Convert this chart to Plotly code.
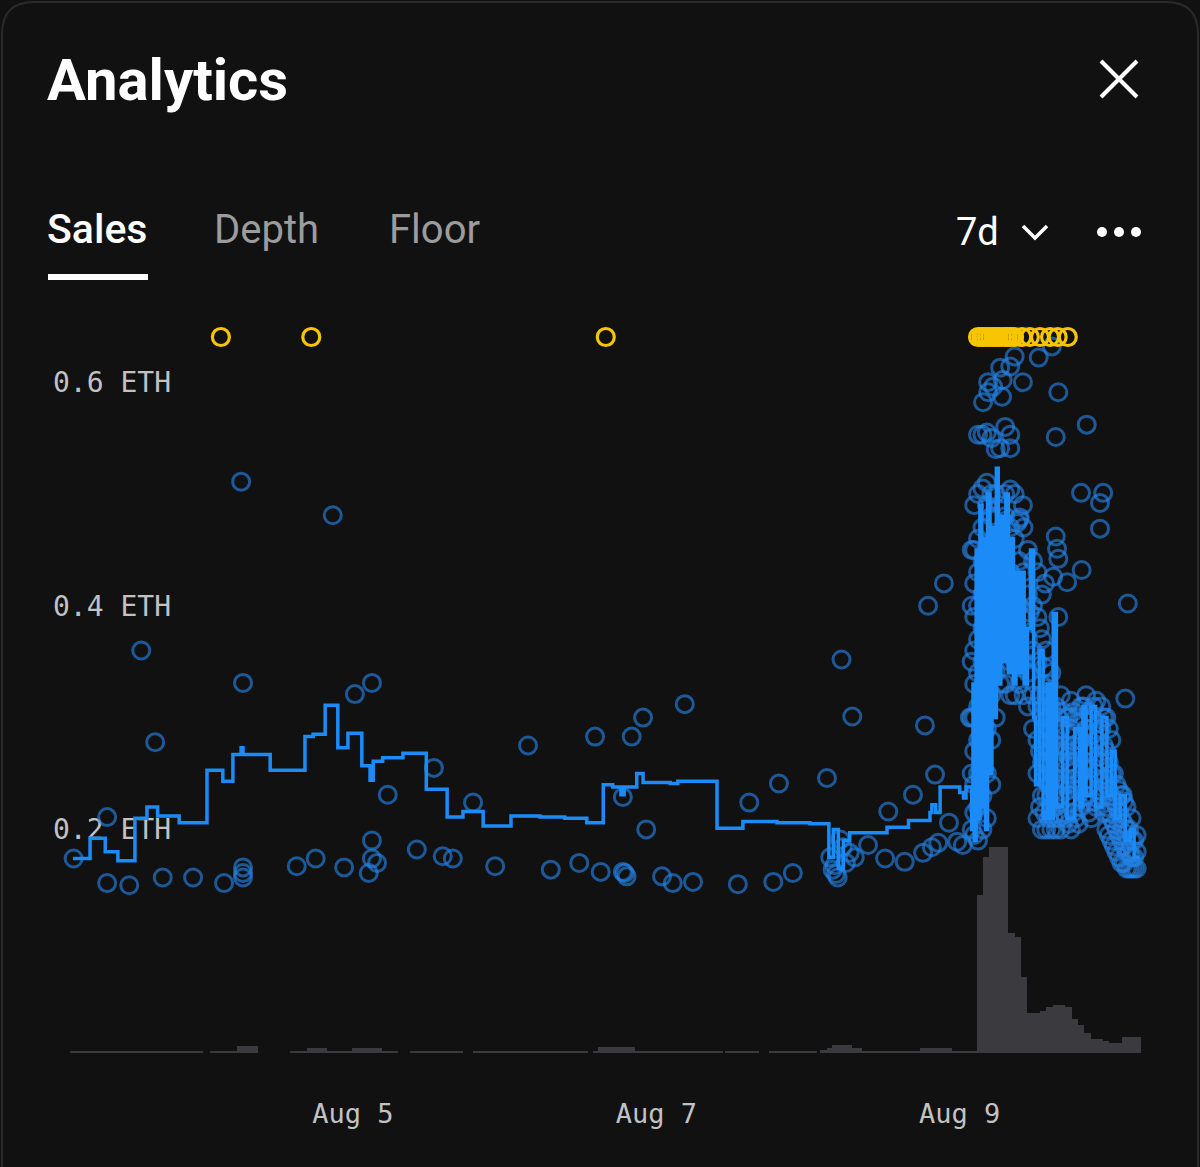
import plotly.graph_objects as go

# ---------------------------------------------------------------- data
# x values are hours since Aug 3, 00:00
X_TICK_HOURS = [48, 96, 144]
X_TICK_LABELS = ["Aug 5", "Aug 7", "Aug 9"]
Y_TICK_VALUES = [0, 0.2, 0.4, 0.6]
Y_TICK_LABELS = ["0 ETH", "0.2 ETH", "0.4 ETH", "0.6 ETH"]

# individual sales (hour, price in ETH)
SALE_HOURS = [3.8, 9.1, 9.1, 12.6, 14.5, 16.7, 17.9, 22.7, 27.6, 30.3, 30.6, 30.6, 30.6, 30.6,
              39.1, 42.1, 44.8, 46.6, 48.3, 51.0, 51.0, 51.0, 51.8, 50.5, 53.5, 58.1, 60.8,
              62.2, 63.8, 67.0, 70.5, 75.7, 79.3, 83.8, 86.3, 87.2, 90.7, 90.7, 91.0, 91.3,
              92.1, 93.9, 94.4, 96.9, 98.6, 100.5, 101.8, 108.9, 110.7, 114.5, 115.4, 117.6,
              123.0, 125.3, 127.0,
              123.5, 123.9, 124.4, 124.7, 125.1, 125.5, 126.0, 126.6, 127.4, 124.2, 129.5,
              132.2, 132.7, 135.3, 136.6, 138.2, 138.5, 139.0, 139.6, 140.1, 140.6, 141.5,
              142.3, 143.6, 144.5, 145.6]
SALE_PRICES = [0.174, 0.211, 0.152, 0.150, 0.360, 0.278, 0.157, 0.157, 0.152, 0.511, 0.331, 0.166,
               0.161, 0.157, 0.167, 0.174, 0.481, 0.166, 0.321, 0.331, 0.190, 0.174, 0.170, 0.161,
               0.231, 0.182, 0.255, 0.176, 0.174, 0.224, 0.167, 0.275, 0.164, 0.170, 0.283, 0.162,
               0.229, 0.162, 0.161, 0.158, 0.283, 0.300, 0.200, 0.158, 0.152, 0.312, 0.153, 0.151,
               0.224, 0.153, 0.241, 0.161, 0.246, 0.352, 0.301,
               0.175, 0.164, 0.160, 0.157, 0.191, 0.184, 0.170, 0.179, 0.175, 0.168, 0.186,
               0.174, 0.216, 0.171, 0.231, 0.179, 0.293, 0.400, 0.184, 0.249, 0.188, 0.420,
               0.206, 0.189, 0.186, 0.300]

# the Aug 9 sales burst, read column by column
BURST_HOURS = [145.9, 146.3, 146.9, 147.6, 148.3, 149.0, 149.7, 150.4, 151.2, 152.0, 152.7, 153.4,
               154.1, 154.8, 155.6, 156.3, 157.0, 157.7, 158.5, 159.2, 160.0, 160.8, 161.6,
               162.4, 163.2, 164.0, 164.8, 165.6, 166.4, 167.2, 168.0, 168.8, 169.6, 170.4,
               171.2, 172.0,
               156.7, 157.4, 158.1, 158.9, 159.6, 160.4, 161.2, 162.0, 162.8, 163.6, 164.4,
               165.2, 166.0, 166.8, 167.6, 168.4, 169.2, 170.0, 170.8, 171.6]
BURST_PRICES = [
    [0.20, 0.25, 0.30, 0.35, 0.40, 0.45],
    [0.195, 0.215, 0.24, 0.27, 0.30, 0.33, 0.36, 0.39, 0.42, 0.45, 0.49],
    [0.19, 0.22, 0.25, 0.28, 0.31, 0.34, 0.37, 0.40, 0.43, 0.46, 0.50, 0.553],
    [0.20, 0.23, 0.26, 0.29, 0.32, 0.35, 0.38, 0.41, 0.44, 0.47, 0.505, 0.553],
    [0.21, 0.25, 0.29, 0.33, 0.37, 0.41, 0.45, 0.49, 0.51, 0.555],
    [0.24, 0.28, 0.32, 0.36, 0.40, 0.44, 0.48, 0.50, 0.55],
    [0.30, 0.34, 0.38, 0.42, 0.46, 0.50, 0.54],
    [0.33, 0.37, 0.41, 0.45, 0.49, 0.541],
    [0.33, 0.36, 0.40, 0.44, 0.48, 0.50, 0.56],
    [0.32, 0.35, 0.39, 0.43, 0.47, 0.504, 0.541, 0.553],
    [0.32, 0.35, 0.38, 0.42, 0.46, 0.50],
    [0.33, 0.36, 0.40, 0.44, 0.477],
    [0.32, 0.35, 0.39, 0.43, 0.47],
    [0.31, 0.34, 0.37, 0.41, 0.45],
    [0.29, 0.32, 0.36, 0.40, 0.44],
    [0.21, 0.25, 0.28, 0.31, 0.35, 0.39, 0.43],
    [0.20, 0.23, 0.26, 0.30, 0.33, 0.37, 0.41],
    [0.20, 0.23, 0.26, 0.29, 0.32, 0.36],
    [0.20, 0.22, 0.25, 0.28, 0.31, 0.34],
    [0.20, 0.22, 0.25, 0.28, 0.31],
    [0.20, 0.23, 0.26, 0.29, 0.32],
    [0.21, 0.24, 0.27, 0.30],
    [0.20, 0.23, 0.26, 0.29, 0.315],
    [0.21, 0.24, 0.27, 0.30],
    [0.22, 0.25, 0.28, 0.31],
    [0.23, 0.26, 0.29, 0.32],
    [0.21, 0.24, 0.27, 0.30],
    [0.22, 0.25, 0.28, 0.315],
    [0.23, 0.26, 0.29, 0.31],
    [0.20, 0.22, 0.24, 0.27, 0.30],
    [0.19, 0.21, 0.23, 0.25, 0.28],
    [0.18, 0.20, 0.22, 0.24],
    [0.17, 0.19, 0.21, 0.23],
    [0.165, 0.18, 0.20, 0.22],
    [0.165, 0.175, 0.19, 0.21],
    [0.165, 0.18, 0.195],
    [0.22, 0.27, 0.32, 0.38],
    [0.215, 0.245, 0.275, 0.31, 0.345],
    [0.21, 0.24, 0.27, 0.30, 0.33],
    [0.21, 0.235, 0.265, 0.295],
    [0.21, 0.24, 0.27, 0.30],
    [0.215, 0.245, 0.275, 0.305],
    [0.205, 0.235, 0.265, 0.30],
    [0.215, 0.245, 0.275, 0.305],
    [0.205, 0.235, 0.265, 0.295],
    [0.225, 0.255, 0.285, 0.31],
    [0.215, 0.245, 0.275, 0.305],
    [0.225, 0.255, 0.285, 0.31],
    [0.235, 0.265, 0.295],
    [0.215, 0.245, 0.275, 0.30],
    [0.195, 0.215, 0.235, 0.26, 0.29],
    [0.185, 0.205, 0.225, 0.25],
    [0.175, 0.195, 0.215, 0.235],
    [0.17, 0.185, 0.205, 0.225],
    [0.165, 0.18, 0.20],
    [0.165, 0.175, 0.19],
]
BURST_EXTRA_HOURS = [147.7, 148.5, 148.5, 149.3, 150.4, 150.7, 150.8, 152.0, 152.7, 154.0, 156.5,
                     158.6, 159.6, 164.1, 159.2, 163.2, 166.7, 166.2, 166.2, 163.3, 159.2, 159.4,
                     159.6, 161.0, 159.6, 158.8, 157.5, 155.1, 154.0, 153.1, 153.5, 170.6, 170.2,
                     169.8]
BURST_EXTRA_PRICES = [0.582, 0.591, 0.600, 0.596, 0.613, 0.587, 0.602, 0.614, 0.623, 0.600, 0.622,
                      0.632, 0.591, 0.562, 0.551, 0.501, 0.501, 0.492, 0.469, 0.432, 0.462, 0.451,
                      0.442, 0.421, 0.390, 0.426, 0.420, 0.394, 0.490, 0.474, 0.479, 0.402, 0.317,
                      0.231]

# sales priced above the visible range (drawn pinned to the top edge)
ABOVE_RANGE_HOURS = [27.1, 41.4, 88.0, 146.9, 147.4, 147.8, 148.3, 148.8, 149.3, 149.7, 150.2,
                     150.7, 151.2, 151.6, 152.1, 152.6, 153.9, 155.1, 156.7, 158.3, 159.5, 161.1]

# step line (floor / trend price)
LINE_HOURS = [3.7, 6.4, 8.8, 10.8, 13.5, 15.4, 17.1, 20.5, 24.9, 27.4, 29.0, 30.3, 30.6, 34.9,
              40.4, 41.7, 43.6, 45.6, 47.2, 49.4, 50.7, 51.2, 52.7, 55.9, 59.6, 62.9, 65.4, 68.6,
              73.0, 77.6, 81.5, 85.0, 87.6, 89.1, 90.4, 90.9, 92.9, 93.9, 98.2, 99.4, 105.6,
              109.7, 115.1, 120.3, 123.3, 124.0, 124.8, 125.6, 126.6,
              132.5, 135.9, 139.3, 139.6, 140.2, 140.9, 144.0, 144.6, 145.0,
              145.9, 146.1, 146.3, 146.6, 146.9, 147.2, 147.5, 147.8, 148.1, 148.4, 148.8, 149.1,
              149.5, 149.8, 150.1, 150.5, 150.9, 151.3, 151.7, 152.1, 152.5, 152.9, 153.3, 153.8,
              154.2, 154.7, 155.2, 155.7, 156.0, 156.6, 157.2, 157.8, 158.3, 158.8, 159.3, 160.3,
              161.0, 162.2, 163.0, 163.5, 164.0, 164.8, 165.5, 166.5, 167.3, 168.0, 168.6, 169.4,
              170.2, 171.0, 171.6, 172.5]
LINE_PRICES = [0.174, 0.192, 0.180, 0.172, 0.210, 0.220, 0.212, 0.206, 0.253, 0.243, 0.267, 0.273,
               0.267, 0.253, 0.283, 0.285, 0.311, 0.273, 0.286, 0.257, 0.244, 0.261, 0.264, 0.268,
               0.236, 0.211, 0.216, 0.203, 0.212, 0.211, 0.210, 0.206, 0.240, 0.238, 0.231, 0.238,
               0.250, 0.242, 0.241, 0.243, 0.201, 0.207, 0.206, 0.205, 0.175, 0.200, 0.165, 0.190,
               0.197, 0.202, 0.208, 0.215, 0.222, 0.215, 0.238, 0.233, 0.228, 0.238,
               0.20, 0.33, 0.19, 0.45, 0.21, 0.49, 0.22, 0.46, 0.20, 0.50, 0.25, 0.47,
               0.30, 0.523, 0.33, 0.48, 0.35, 0.50, 0.34, 0.46, 0.33, 0.43, 0.34, 0.43,
               0.33, 0.38, 0.45, 0.30, 0.24, 0.36, 0.21, 0.33, 0.21, 0.393, 0.22, 0.30,
               0.21, 0.29, 0.22, 0.31, 0.23, 0.31, 0.22, 0.30, 0.23, 0.27, 0.21, 0.23,
               0.19, 0.20, 0.175, 0.175]

# volume bars: quiet stretches (start hour, end hour, value) ...
VOL_START = [3.2, 25.4, 29.6, 38.0, 40.7, 43.9, 47.8, 52.6, 57.0, 67.0, 86.0, 86.8, 92.6, 106.9,
             113.8, 121.9, 123.0, 123.8, 127.0, 128.5, 137.7, 142.8]
VOL_END = [24.3, 29.6, 32.9, 40.7, 43.9, 47.8, 52.6, 55.1, 65.4, 85.2, 86.8, 92.6, 106.5, 112.2,
           121.4, 123.0, 123.8, 127.0, 128.5, 137.7, 142.8, 146.7]
VOL_VALUE = [1.2, 1.2, 3.5, 1.2, 2.5, 1.2, 2.5, 1.2, 1.2, 1.2, 1.2, 3, 1.2, 1.2, 1.2, 1.5, 2.5,
             4, 2.5, 1.2, 2.5, 1.2]
# ... and hourly volume during the burst
BURST_VOL_FIRST_HOUR = 146.7
BURST_VOL = [79, 98, 103, 103, 103, 60, 58, 38, 20, 20, 21, 23, 24, 24, 23, 17, 14, 10, 7, 7,
             6, 5, 5, 8, 8, 8]

# ---------------------------------------------------------------- layout geometry
FIG_W, FIG_H = 1200, 1167
M_L, M_R, M_T, M_B = 50, 55, 337, 107
PW, PH = FIG_W - M_L - M_R, FIG_H - M_T - M_B
X_RANGE = [0.06, 173.32]
Y_RANGE = [-0.00626, 0.6404]
VOL_RANGE = [-3.5, (PH / 2.0) - 3.5]

BG = "#111111"
BLUE_LINE = "#1b8cf7"
BLUE_DOT = "rgba(36,130,228,0.64)"
YELLOW = "#f7c600"
BAR_GREY = "#3b3b3f"
TICK_GREY = "#c2c2c2"
MONO = "DejaVu Sans Mono"
SANS = "Roboto"


def px(x):
    return (x - M_L) / PW


def py(y):
    return (FIG_H - M_B - y) / PH


# flatten burst
burst_x, burst_y = [], []
for h, prices in zip(BURST_HOURS, BURST_PRICES):
    for p in prices:
        burst_x.append(h)
        burst_y.append(p)

all_sale_x = SALE_HOURS + burst_x + BURST_EXTRA_HOURS
all_sale_y = SALE_PRICES + burst_y + BURST_EXTRA_PRICES

bar_x = [(s + e) / 2 for s, e in zip(VOL_START, VOL_END)]
bar_w = [e - s for s, e in zip(VOL_START, VOL_END)]
bar_v = list(VOL_VALUE)
for i, v in enumerate(BURST_VOL):
    bar_x.append(BURST_VOL_FIRST_HOUR + i + 0.5)
    bar_w.append(1.0)
    bar_v.append(v)

fig = go.Figure()

fig.add_trace(go.Bar(x=bar_x, y=bar_v, width=bar_w, marker=dict(color=BAR_GREY, line=dict(width=0)),
                     yaxis="y", hoverinfo="skip", showlegend=False))

fig.add_trace(go.Scatter(x=all_sale_x, y=all_sale_y, mode="markers", yaxis="y2",
                         marker=dict(symbol="circle-open", size=17, color=BLUE_DOT,
                                     line=dict(width=3, color=BLUE_DOT)),
                         showlegend=False, cliponaxis=False))

fig.add_trace(go.Scatter(x=LINE_HOURS, y=LINE_PRICES, mode="lines", yaxis="y2",
                         line=dict(color=BLUE_LINE, width=3.5, shape="hv"), showlegend=False))

fig.add_trace(go.Scatter(x=ABOVE_RANGE_HOURS, y=[Y_RANGE[1]] * len(ABOVE_RANGE_HOURS),
                         mode="markers", yaxis="y2", cliponaxis=False,
                         marker=dict(symbol="circle-open", size=17, color=YELLOW,
                                     line=dict(width=3.2, color=YELLOW)),
                         showlegend=False))

# ---------------------------------------------------------------- decorations
shapes = []
# card border
border = "M {},{} L {},{} Q {},{} {},{} L {},{} Q {},{} {},{} L {},{}".format(
    px(2), py(FIG_H), px(2), py(34), px(2), py(2), px(34), py(2),
    px(FIG_W - 34), py(2), px(FIG_W - 2), py(2), px(FIG_W - 2), py(34),
    px(FIG_W - 2), py(FIG_H))
shapes.append(dict(type="path", xref="paper", yref="paper", path=border,
                   line=dict(color="#2a2a2c", width=2)))
# tab underline
shapes.append(dict(type="rect", xref="paper", yref="paper", x0=px(48), x1=px(148),
                   y0=py(280), y1=py(274), fillcolor="white", line=dict(width=0)))
# close icon
shapes.append(dict(type="line", xref="paper", yref="paper", x0=px(1101), y0=py(61),
                   x1=px(1137), y1=py(97), line=dict(color="white", width=4)))
shapes.append(dict(type="line", xref="paper", yref="paper", x0=px(1101), y0=py(97),
                   x1=px(1137), y1=py(61), line=dict(color="white", width=4)))
# chevron
chev = "M {},{} L {},{} L {},{}".format(px(1023), py(226), px(1035), py(238), px(1047), py(226))
shapes.append(dict(type="path", xref="paper", yref="paper", path=chev,
                   line=dict(color="white", width=3.5)))
# more dots
for cx in (1102, 1119, 1136):
    shapes.append(dict(type="circle", xref="paper", yref="paper", x0=px(cx - 5), x1=px(cx + 5),
                       y0=py(232 + 5), y1=py(232 - 5), fillcolor="white", line=dict(width=0)))

annotations = [
    dict(text="Analytics", x=px(45), y=py(80), xref="paper", yref="paper", xanchor="left",
         yanchor="middle", showarrow=False,
         font=dict(family=SANS, size=58, color="white", weight="bold")),
    dict(text="Sales", x=px(45), y=py(229), xref="paper", yref="paper", xanchor="left",
         yanchor="middle", showarrow=False,
         font=dict(family=SANS, size=41, color="white", weight=500)),
    dict(text="Depth", x=px(212), y=py(229), xref="paper", yref="paper", xanchor="left",
         yanchor="middle", showarrow=False,
         font=dict(family=SANS, size=40, color="#9c9c9c")),
    dict(text="Floor", x=px(387), y=py(229), xref="paper", yref="paper", xanchor="left",
         yanchor="middle", showarrow=False,
         font=dict(family=SANS, size=40, color="#9c9c9c")),
    dict(text="7d", x=px(954), y=py(232), xref="paper", yref="paper", xanchor="left",
         yanchor="middle", showarrow=False,
         font=dict(family=SANS, size=38, color="white")),
]

fig.update_layout(
    width=FIG_W, height=FIG_H,
    margin=dict(l=M_L, r=M_R, t=M_T, b=M_B, pad=0),
    paper_bgcolor=BG, plot_bgcolor=BG,
    barmode="overlay", bargap=0,
    showlegend=False,
    shapes=shapes, annotations=annotations,
    xaxis=dict(range=X_RANGE, tickvals=X_TICK_HOURS, ticktext=X_TICK_LABELS,
               showgrid=False, zeroline=False, showline=False,
               ticks="outside", ticklen=30, tickcolor=BG,
               tickfont=dict(family=MONO, size=27, color=TICK_GREY)),
    yaxis=dict(range=VOL_RANGE, visible=False, fixedrange=True),
    yaxis2=dict(range=Y_RANGE, overlaying="y", side="left",
                tickvals=Y_TICK_VALUES, ticktext=Y_TICK_LABELS,
                ticklabelposition="inside", layer="below traces",
                showgrid=False, zeroline=False, showline=False, ticks="",
                tickfont=dict(family=MONO, size=28, color=TICK_GREY)),
)

fig.write_html(
    "out.html",
    config={"displayModeBar": False},
    post_script="document.body.style.margin='0';document.body.style.background='#111111';",
)
